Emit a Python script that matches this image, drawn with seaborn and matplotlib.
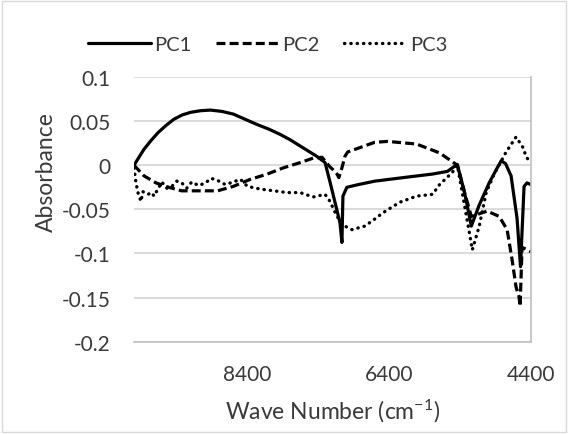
import numpy as np
import pandas as pd
import matplotlib
matplotlib.use("Agg")
import matplotlib.pyplot as plt
from matplotlib.patches import Rectangle
import seaborn as sns

# ---------------- data ----------------
pc1_wn = [10000, 9930, 9860, 9760, 9660, 9550, 9440, 9320, 9200, 9060, 8920, 8760, 8600,
          8430, 8260, 8100, 7940, 7800, 7660, 7540, 7420, 7305,
          7235, 7165, 7095, 7067, 7053, 6997, 6840, 6600, 6200, 5790, 5580, 5440,
          5340, 5242, 5130, 4990, 4890, 4821, 4760, 4681, 4597, 4548, 4498, 4456, 4400]
pc1 = [0.000, 0.009, 0.018, 0.028, 0.037, 0.045, 0.052, 0.057, 0.060, 0.0618, 0.0625, 0.0610, 0.058,
       0.052, 0.046, 0.041, 0.035, 0.029, 0.022, 0.016, 0.010, 0.003,
       -0.019, -0.042, -0.065, -0.0875, -0.035, -0.025, -0.022, -0.018, -0.014, -0.010, -0.007, 0.001,
       -0.030, -0.069, -0.045, -0.020, -0.005, 0.005, 0.002, -0.012, -0.060, -0.115, -0.024, -0.020, -0.022]

pc2_wn = [10000, 9860, 9690, 9510, 9330, 9130, 8820, 8600, 8360, 8120, 7895, 7656,
          7474, 7347, 7235, 7193, 7137, 7110, 7067, 7025, 6986, 6744, 6604, 6421,
          6014, 5690, 5439, 5340, 5242, 5018, 4849, 4737, 4667, 4611, 4569, 4554, 4526, 4400]
pc2 = [0.000, -0.012, -0.020, -0.025, -0.029, -0.029, -0.029, -0.024, -0.016, -0.010, -0.003, 0.003,
       0.008, 0.009, -0.002, -0.005, -0.010, -0.014, -0.003, 0.010, 0.015, 0.022, 0.026, 0.027,
       0.024, 0.014, 0.000, -0.030, -0.058, -0.052, -0.058, -0.073, -0.107, -0.138, -0.149, -0.160, -0.093, -0.098]

pc3_wn = [10000, 9972, 9944, 9902, 9874, 9804, 9747, 9719, 9649, 9607, 9537, 9467, 9396,
          9326, 9256, 9186, 9088, 8989, 8919, 8849, 8709, 8498, 8400, 8218, 7839, 7656,
          7474, 7305, 7235, 7137, 7025, 6926, 6744, 6604, 6491, 6253, 6014, 5789, 5690,
          5509, 5439, 5270, 5228, 5130, 5032, 4919, 4751, 4611, 4512, 4470, 4428, 4400]
pc3 = [-0.003, -0.020, -0.031, -0.041, -0.030, -0.033, -0.031, -0.035, -0.025, -0.019, -0.026, -0.024, -0.018,
       -0.020, -0.026, -0.019, -0.023, -0.020, -0.015, -0.016, -0.022, -0.016, -0.024, -0.027, -0.031, -0.031,
       -0.036, -0.033, -0.041, -0.058, -0.069, -0.073, -0.069, -0.061, -0.054, -0.042, -0.035, -0.033, -0.022,
       -0.008, 0.000, -0.076, -0.096, -0.069, -0.031, -0.010, 0.015, 0.032, 0.020, 0.010, 0.005, 0.004]

series_names = ["PC1", "PC2", "PC3"]
x_ticks = [8400, 6400, 4400]
x_ticklabels = ["8400", "6400", "4400"]
y_ticks = [-0.2, -0.15, -0.1, -0.05, 0, 0.05, 0.1]
y_ticklabels = ["-0.2", "-0.15", "-0.1", "-0.05", "0", "0.05", "0.1"]

df = pd.concat([
    pd.DataFrame({"wn": pc1_wn, "abs": pc1, "series": "PC1"}),
    pd.DataFrame({"wn": pc2_wn, "abs": pc2, "series": "PC2"}),
    pd.DataFrame({"wn": pc3_wn, "abs": pc3, "series": "PC3"}),
], ignore_index=True)

# ---------------- style ----------------
sns.set_style("white")
plt.rcParams["font.family"] = ["Lato", "DejaVu Sans"]
plt.rcParams["mathtext.fontset"] = "custom"
plt.rcParams["mathtext.rm"] = "Lato"
plt.rcParams["mathtext.it"] = "Lato:italic"
plt.rcParams["mathtext.bf"] = "Lato:bold"
txt = "#3a3a3a"

W, H = 568, 435
fig, ax = plt.subplots(figsize=(W / 100, H / 100), dpi=100)
fig.subplots_adjust(left=134 / W, right=531 / W, bottom=(H - 342.7) / H, top=(H - 78) / H)

sns.lineplot(data=df, x="wn", y="abs", style="series", style_order=series_names,
             dashes=["", (2.8, 1.3), (0.1, 1.8)], color="black", linewidth=2.3,
             estimator=None, sort=False, legend=False, ax=ax)

lines = ax.get_lines()[:3]
for ln in lines:
    ln.set_solid_joinstyle("round")
    ln.set_dash_joinstyle("round")
lines[2].set_dash_capstyle("round")
lines[2].set_linewidth(2.4)

ax.set_xlim(10000, 4400)
ax.set_ylim(-0.2, 0.1)
ax.set_xticks(x_ticks)
ax.set_xticklabels(x_ticklabels)
ax.set_yticks(y_ticks)
ax.set_yticklabels(y_ticklabels)
ax.tick_params(axis="both", length=0, labelsize=15, labelcolor=txt)
ax.tick_params(axis="y", pad=17)
ax.tick_params(axis="x", pad=16)

ax.yaxis.grid(True, color="#d4d4d4", linewidth=1.2)
ax.xaxis.grid(False)
ax.set_axisbelow(True)
for s in ["left", "top"]:
    ax.spines[s].set_visible(False)
for s in ["right", "bottom"]:
    ax.spines[s].set_visible(True)
    ax.spines[s].set_color("#bfbfbf")
    ax.spines[s].set_linewidth(1.2)

ax.set_ylabel("Absorbance", fontsize=16.5, color=txt)
ax.yaxis.set_label_coords(-0.195, 0.645)
ax.set_xlabel(r"Wave Number (cm$^{\mathregular{-1}}$)", fontsize=16.5, color=txt, va="top")
ax.xaxis.set_label_coords(0.5, -0.21)

leg = ax.legend(lines, series_names, loc="center", ncol=3, frameon=False,
                bbox_to_anchor=(268 / W, 1 - 45 / H), bbox_transform=fig.transFigure,
                fontsize=14.5, handlelength=3.1, handletextpad=0.2, columnspacing=1.2,
                labelcolor=txt)

fig.patches.append(Rectangle((2 / W, 2 / H), (W - 4) / W, (H - 4) / H, transform=fig.transFigure,
                             fill=False, edgecolor="#d9d9d9", linewidth=1.0))

fig.savefig("out.png", dpi=100)
